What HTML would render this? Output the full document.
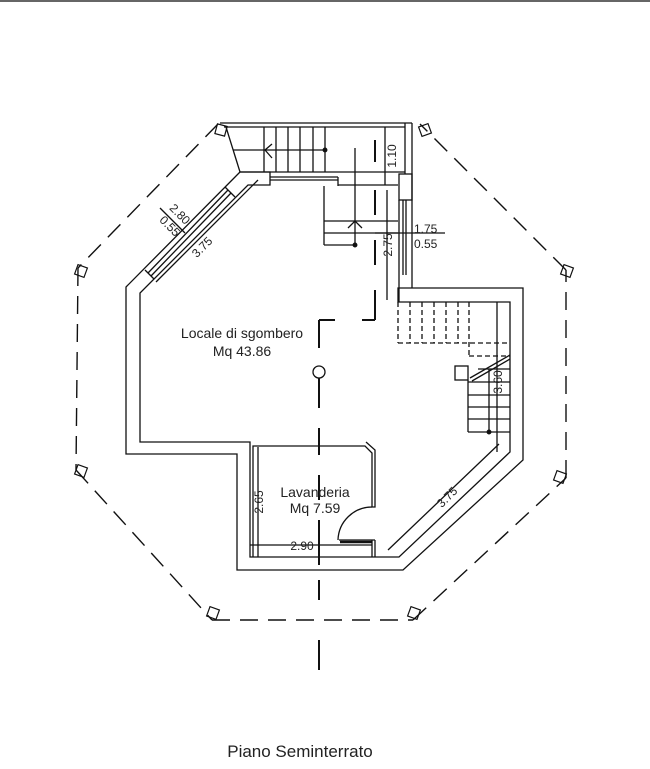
<!DOCTYPE html>
<html><head><style>
html,body{margin:0;padding:0;background:#fff;}
svg{display:block;}
text{font-family:"Liberation Sans",sans-serif;fill:#222;}
</style></head><body>
<svg width="650" height="769" viewBox="0 0 650 769" xmlns="http://www.w3.org/2000/svg">
<rect width="650" height="769" fill="#fff"/>
<line x1="0" y1="1" x2="650" y2="1" stroke="#666" stroke-width="2"/>
<g fill="none" stroke="#111" stroke-width="1.3">
<g stroke-dasharray="18,10" stroke-width="1.4">
<line x1="218" y1="124" x2="78" y2="268"/>
<line x1="78" y1="268" x2="76" y2="470"/>
<line x1="76" y1="470" x2="212" y2="620"/>
<line x1="212" y1="620" x2="413" y2="620"/>
<line x1="413" y1="620" x2="566" y2="478"/>
<line x1="566" y1="478" x2="566" y2="270"/>
<line x1="566" y1="270" x2="420" y2="124"/>
</g>
<g stroke-width="1.2">
<rect x="216" y="125" width="10" height="10" transform="rotate(15 221 130)"/>
<rect x="420" y="125" width="10" height="10" transform="rotate(-20 425 130)"/>
<rect x="76" y="266" width="10" height="10" transform="rotate(20 81 271)"/>
<rect x="562" y="266" width="10" height="10" transform="rotate(20 567 271)"/>
<rect x="76" y="466" width="10" height="10" transform="rotate(20 81 471)"/>
<rect x="555" y="472" width="10" height="10" transform="rotate(20 560 477)"/>
<rect x="208" y="608" width="10" height="10" transform="rotate(20 213 613)"/>
<rect x="409" y="608" width="10" height="10" transform="rotate(20 414 613)"/>
</g>
<line x1="220" y1="123" x2="412" y2="123"/>
<line x1="224" y1="127" x2="405" y2="127"/>
<line x1="226" y1="127" x2="240" y2="172"/>
<line x1="240" y1="172" x2="405" y2="172"/>
<g>
<line x1="264" y1="127" x2="264" y2="172"/><line x1="276" y1="127" x2="276" y2="172"/>
<line x1="288" y1="127" x2="288" y2="172"/><line x1="300" y1="127" x2="300" y2="172"/>
<line x1="313" y1="127" x2="313" y2="172"/><line x1="325" y1="127" x2="325" y2="172"/>
<line x1="233" y1="150" x2="325" y2="150"/>
<polyline points="272,144 265,150 272,158"/>
</g>
<circle cx="325" cy="150" r="1.8" fill="#111"/>
<line x1="405" y1="123" x2="405" y2="174"/>
<line x1="412" y1="123" x2="412" y2="288"/>
<rect x="399" y="174" width="13" height="26"/>
<line x1="399" y1="200" x2="399" y2="302"/>
<line x1="403" y1="200" x2="403" y2="275"/>
<line x1="406" y1="200" x2="406" y2="275"/>
<polyline points="240,172 270,172 270,185 248,185 140,293 140,442 250,442 250,557 399,557 510,452 510,302 398,302 398,288 412,288 523,288 523,460 403,570 237,570 237,454 126,454 126,287 240,172"/>
<line x1="338" y1="177" x2="338" y2="186"/>
<line x1="270" y1="177" x2="338" y2="177"/><line x1="270" y1="180" x2="338" y2="180"/>
<line x1="338" y1="185" x2="398" y2="185"/>
<line x1="228" y1="190" x2="148" y2="273"/>
<line x1="231" y1="193" x2="151" y2="276"/>
<line x1="225" y1="187" x2="235" y2="197"/>
<line x1="145" y1="270" x2="154" y2="279"/>
<line x1="324" y1="186" x2="324" y2="245"/>
<line x1="324" y1="221" x2="398" y2="221"/>
<line x1="324" y1="233" x2="398" y2="233"/>
<line x1="324" y1="245" x2="356" y2="245"/>
<line x1="355" y1="148" x2="355" y2="245"/>
<polyline points="348,228 355,221 362,228"/>
<circle cx="355" cy="245" r="1.8" fill="#111"/>
<polyline points="253,557 253,446 365,446 372,453 372,507 375,507 375,450 366,442"/>
<line x1="372" y1="540" x2="372" y2="557"/><line x1="375" y1="540" x2="375" y2="557"/>
<line x1="339" y1="540" x2="375" y2="540"/>
<path d="M372 507 A34 34 0 0 0 338 540"/>
<line x1="340" y1="542" x2="372" y2="542" stroke-width="2.5"/>
<g stroke-dasharray="5,3">
<line x1="410" y1="302" x2="410" y2="343"/><line x1="422" y1="302" x2="422" y2="343"/>
<line x1="434" y1="302" x2="434" y2="343"/><line x1="446" y1="302" x2="446" y2="343"/>
<line x1="458" y1="302" x2="458" y2="343"/><line x1="469" y1="302" x2="469" y2="356"/>
<line x1="398" y1="302" x2="398" y2="343"/>
<line x1="398" y1="343" x2="510" y2="343"/>
<line x1="469" y1="356" x2="510" y2="356"/>
</g>
<line x1="468" y1="380" x2="468" y2="432"/>
<line x1="478" y1="369" x2="510" y2="369"/>
<line x1="468" y1="382" x2="510" y2="382"/><line x1="468" y1="395" x2="510" y2="395"/>
<line x1="468" y1="407" x2="510" y2="407"/><line x1="468" y1="419" x2="510" y2="419"/>
<line x1="468" y1="432" x2="510" y2="432"/>
<rect x="455" y="366" width="13" height="14"/>
<line x1="470" y1="378" x2="510" y2="355"/><line x1="472" y1="381" x2="510" y2="359"/>
<line x1="489" y1="369" x2="489" y2="432"/>
<circle cx="489" cy="432" r="1.8" fill="#111"/>
<line x1="497" y1="302" x2="497" y2="452"/>
<line x1="385" y1="127" x2="385" y2="185"/>
<line x1="387" y1="190" x2="387" y2="300"/>
<line x1="375" y1="233" x2="445" y2="233"/>
<line x1="156" y1="282" x2="258" y2="180"/>
<line x1="160" y1="208" x2="185" y2="233"/>
<line x1="388" y1="550" x2="499" y2="444"/>
<line x1="258" y1="447" x2="258" y2="557"/>
<line x1="250" y1="545" x2="372" y2="545"/>
<g stroke-width="2">
<line x1="375" y1="140" x2="375" y2="162"/><line x1="375" y1="190" x2="375" y2="215"/>
<line x1="375" y1="240" x2="375" y2="265"/><line x1="375" y1="290" x2="375" y2="320"/>
<line x1="362" y1="320" x2="375" y2="320"/><line x1="319" y1="320" x2="335" y2="320"/>
<line x1="319" y1="320" x2="319" y2="348"/>
<line x1="319" y1="378" x2="319" y2="408"/><line x1="319" y1="428" x2="319" y2="455"/>
<line x1="319" y1="475" x2="319" y2="500"/><line x1="319" y1="520" x2="319" y2="565"/>
<line x1="319" y1="580" x2="319" y2="600"/><line x1="319" y1="640" x2="319" y2="670"/>
</g>
<circle cx="319" cy="372" r="6"/>
</g>
<text x="242" y="338" font-size="14" text-anchor="middle">Locale di sgombero</text>
<text x="242" y="356" font-size="14" text-anchor="middle">Mq 43.86</text>
<text x="315" y="497" font-size="14" text-anchor="middle">Lavanderia</text>
<text x="315" y="513" font-size="14" text-anchor="middle">Mq 7.59</text>
<text x="300" y="757" font-size="17" text-anchor="middle">Piano Seminterrato</text>
<g font-size="12">
<text x="414" y="233">1.75</text>
<text x="414" y="248">0.55</text>
<text x="302" y="550" text-anchor="middle">2.90</text>
<text transform="translate(396,156) rotate(-90)" text-anchor="middle">1.10</text>
<text transform="translate(392,245) rotate(-90)" text-anchor="middle">2.75</text>
<text transform="translate(263,502) rotate(-90)" text-anchor="middle">2.65</text>
<text transform="translate(502,382) rotate(-90)" text-anchor="middle">3.60</text>
<text transform="translate(177,217) rotate(45)" text-anchor="middle">2.80</text>
<text transform="translate(167,229) rotate(45)" text-anchor="middle">0.55</text>
<text transform="translate(205,250) rotate(-45)" text-anchor="middle">3.75</text>
<text transform="translate(450,500) rotate(-45)" text-anchor="middle">3.75</text>
</g>
</svg>
</body></html>
